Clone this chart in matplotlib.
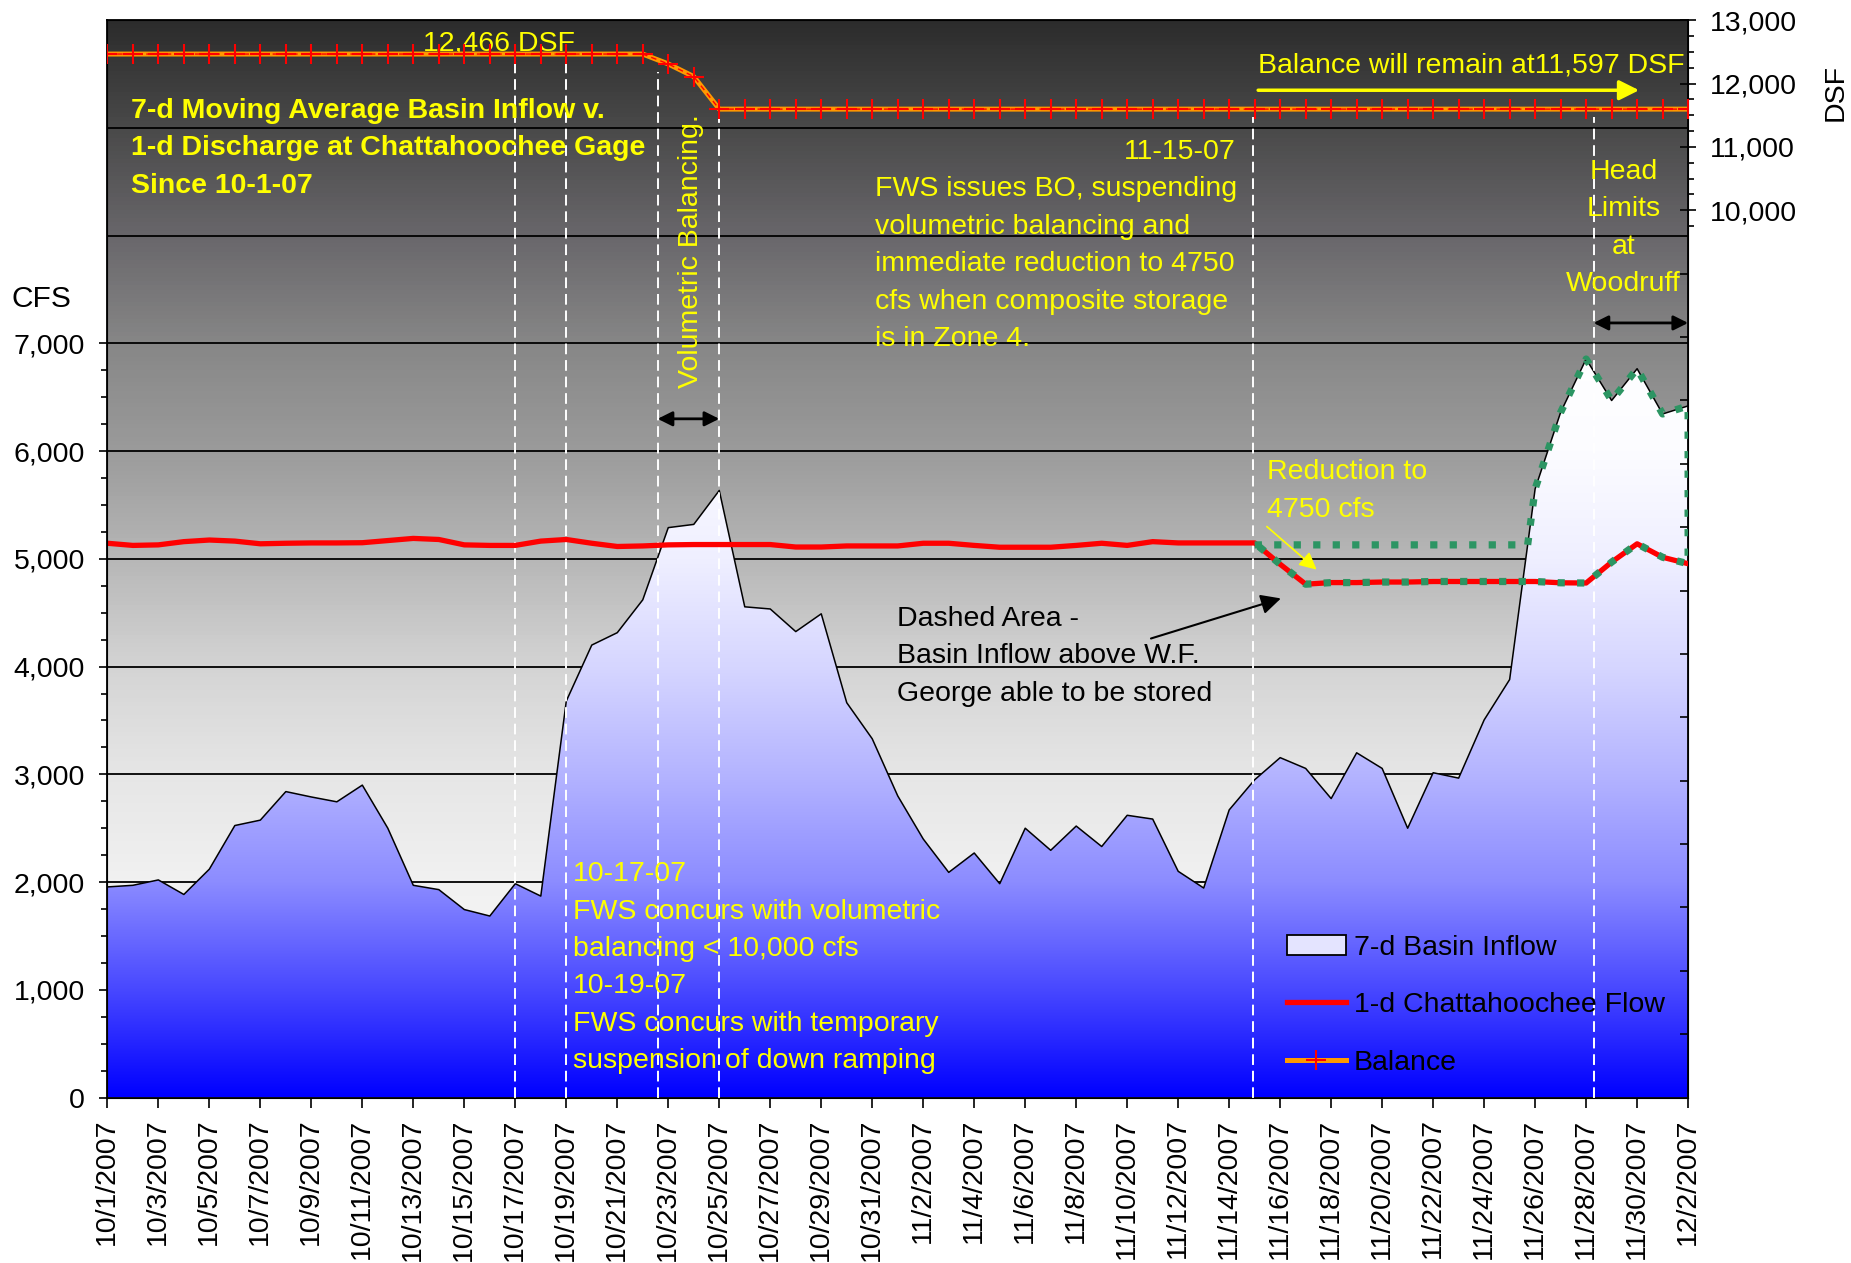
import matplotlib
matplotlib.use("Agg")
import matplotlib.pyplot as plt
import matplotlib.dates as mdates
import matplotlib.transforms as mtransforms
import numpy as np
import pandas as pd
from matplotlib.colors import LinearSegmentedColormap
from matplotlib.lines import Line2D
from matplotlib.patches import Patch
from matplotlib.ticker import FuncFormatter

plt.rcParams["font.family"] = ["Liberation Sans", "DejaVu Sans"]
plt.rcParams["font.size"] = 20.5

# ---- data ----
dates = pd.date_range("2007-10-01", "2007-12-02", freq="D")

# 7-d moving average basin inflow, cfs
inflow_7d = [1955, 1970, 2020, 1885, 2120, 2525, 2575, 2840, 2790, 2745,
             2900, 2500, 1970, 1930, 1745, 1685, 1985, 1870, 3680, 4200,
             4315, 4620, 5290, 5320, 5635, 4555, 4535, 4325, 4490, 3665,
             3330, 2800, 2400, 2090, 2270, 1985, 2500, 2295, 2520, 2330,
             2620, 2585, 2100, 1945, 2670, 2950, 3155, 3055, 2775, 3200,
             3055, 2500, 3015, 2965, 3505, 3880, 5650, 6360, 6855, 6470,
             6765, 6345, 6420]

# 1-d Chattahoochee flow, cfs
flow_1d = [5145, 5125, 5130, 5160, 5175, 5165, 5140, 5145, 5148, 5148,
           5150, 5170, 5190, 5180, 5130, 5125, 5125, 5165, 5180, 5145,
           5115, 5120, 5130, 5133, 5133, 5133, 5133, 5110, 5110, 5120,
           5120, 5120, 5145, 5145, 5125, 5108, 5108, 5108, 5125, 5145,
           5125, 5160, 5148, 5148, 5148, 5148, 4950, 4765, 4780, 4780,
           4785, 4785, 4790, 4790, 4790, 4790, 4790, 4778, 4776, 4970,
           5140, 5015, 4955]

# composite balance, DSF (right axis)
balance = [12466, 12466, 12466, 12466, 12466, 12466, 12466, 12466, 12466, 12466,
           12466, 12466, 12466, 12466, 12466, 12466, 12466, 12466, 12466, 12466,
           12466, 12466, 12310, 12110, 11597, 11597, 11597, 11597, 11597, 11597,
           11597, 11597, 11597, 11597, 11597, 11597, 11597, 11597, 11597, 11597,
           11597, 11597, 11597, 11597, 11597, 11597, 11597, 11597, 11597, 11597,
           11597, 11597, 11597, 11597, 11597, 11597, 11597, 11597, 11597, 11597,
           11597, 11597, 11597]

store_level = 5130          # release level before the 4750 cfs reduction
store_start = 45            # index of 11/15/2007

# event markers (dates with hour offsets) and where each dashed line stops
event_dates = [pd.Timestamp("2007-10-17"), pd.Timestamp("2007-10-19"),
               pd.Timestamp("2007-10-22 14:00"), pd.Timestamp("2007-10-25"),
               pd.Timestamp("2007-11-14 22:00"), pd.Timestamp("2007-11-28 07:00")]
event_tops = [9690, 9690, 9520, 9170, 9100, 9100]

YEL = "#ffff00"
LS = 1.57
xn = mdates.date2num(dates)
inflow = np.array(inflow_7d, dtype=float)
flow = np.array(flow_1d, dtype=float)

fig = plt.figure(figsize=(18.51, 12.63), dpi=100)
ax = fig.add_axes([0.058, 0.131, 0.854, 0.853])

# gradient plot background
bg_cmap = LinearSegmentedColormap.from_list("bg", [
    (0.0, "#ffffff"), (0.1, "#f8f8f8"), (0.2, "#f1f1f1"), (0.3, "#e6e6e6"),
    (0.4, "#d4d4d4"), (0.5, "#b7b7b7"), (0.6, "#9b9b9b"), (0.7, "#878787"),
    (0.8, "#69676b"), (0.9, "#4a4a4a"), (1.0, "#2c2c2c")])
ax.imshow(np.linspace(0, 1, 256).reshape(-1, 1), extent=[0, 1, 0, 1],
          transform=ax.transAxes, cmap=bg_cmap, origin="lower",
          aspect="auto", zorder=0)

ax.hlines(np.arange(1000, 10000, 1000), xn[0], xn[-1], colors="black",
          lw=1.3, zorder=1)

# basin inflow area with vertical blue->white gradient
area_cmap = LinearSegmentedColormap.from_list("area", [
    (0.0, "#0000ff"), (1 / 7, "#4848ff"), (2 / 7, "#8c8cff"), (3 / 7, "#b4b4ff"),
    (4 / 7, "#d6d6ff"), (5 / 7, "#efefff"), (6 / 7, "#fcfcff"), (1.0, "#ffffff")])
fill = ax.fill_between(xn, inflow, 0, facecolor="none", edgecolor="none")
img = ax.imshow(np.linspace(0, 1, 256).reshape(-1, 1),
                extent=[xn[0], xn[-1], 0, 7000], cmap=area_cmap,
                origin="lower", aspect="auto", zorder=2)
img.set_clip_path(fill.get_paths()[0], transform=ax.transData)
ax.plot(xn, inflow, color="black", lw=1.1, zorder=3)

ax.vlines(mdates.date2num(event_dates), 0, event_tops, colors="white",
          linestyles=(0, (5.5, 3)), lw=1.4, zorder=4)

ax.plot(xn, flow, color="#ff0000", lw=3.8, zorder=5)

# dashed area: flow vs. what could have been released
xz, iz, fz = xn[store_start:], inflow[store_start:], flow[store_start:]
k = int(np.argmax(iz > store_level))
xc = np.interp(store_level, [iz[k - 1], iz[k]], [xz[k - 1], xz[k]])
top_x = np.r_[xz[:k], xc, xz[k:]]
top_y = np.r_[np.full(k, store_level), store_level, iz[k:]]
ax.plot(np.r_[top_x, xz[::-1], top_x[0]], np.r_[top_y, fz[::-1], top_y[0]],
        color="#2c9563", lw=5.2, linestyle=(0, (1, 1.7)), solid_capstyle="butt",
        dash_capstyle="butt", zorder=6)

ax.set_xlim(xn[0], xn[-1])
ax.set_ylim(0, 10000)
ax.set_xticks(xn[::2])
ax.xaxis.set_major_formatter(FuncFormatter(
    lambda v, p: "{0.month}/{0.day}/{0.year}".format(mdates.num2date(v))))
ax.tick_params(axis="x", rotation=90, length=7, width=1.2, pad=8)
ax.set_yticks(np.arange(0, 7001, 1000))
ax.set_yticks([v for v in range(250, 7000, 250) if v % 1000], minor=True)
ax.yaxis.set_major_formatter(FuncFormatter(lambda v, p: f"{int(v):,}"))
ax.tick_params(axis="y", length=6, width=1.2, pad=10)
ax.tick_params(axis="y", which="minor", length=4.5, width=1.2)
for s in ax.spines.values():
    s.set_linewidth(1.3)

# balance on right axis
ax2 = ax.twinx()
ax2.set_ylim(-4000, 13000)
ax2.plot(xn, balance, color="#ff9900", lw=3.6, zorder=3)
ax2.plot(xn, balance, color="#ff0000", lw=1.0, ls=(0, (4, 3)),
         marker="+", ms=14, mew=1.5, zorder=4)
ax2.set_yticks(np.arange(10000, 13001, 1000))
ax2.set_yticks([v for v in range(9750, 13000, 250) if v % 1000], minor=True)
ax2.yaxis.set_major_formatter(FuncFormatter(lambda v, p: f"{int(v):,}"))
ax2.tick_params(axis="y", direction="inout", length=12, width=1.2, pad=10)
ax2.tick_params(axis="y", which="minor", direction="out", length=4.5, width=1.2)
ax2.set_xlim(xn[0], xn[-1])
# unlabeled inward ticks for the rest of the DSF scale
btr = mtransforms.blended_transform_factory(ax2.transAxes, ax2.transData)
ax2.hlines(np.arange(-3000, 10000, 1000), 0.9948, 1.0, colors="black",
           lw=1.2, transform=btr, clip_on=False, zorder=5)

# ---- annotations ----
T = ax.transAxes
ax.text(0.015, 0.881, "7-d Moving Average Basin Inflow v.\n"
        "1-d Discharge at Chattahoochee Gage\nSince 10-1-07",
        transform=T, color=YEL, fontweight="bold", ha="left", va="center",
        linespacing=LS, zorder=8)
ax.text(0.248, 0.978, "12,466 DSF", transform=T, color=YEL, ha="center",
        va="center", zorder=8)
ax.text(0.369, 0.786, "Volumetric Balancing.", transform=T, color=YEL,
        rotation=90, ha="center", va="center", zorder=8)
ax.annotate("", xy=(mdates.date2num(event_dates[2]), 6300),
            xytext=(mdates.date2num(event_dates[3]), 6300),
            arrowprops=dict(arrowstyle="<|-|>", color="black", lw=2,
                            mutation_scale=22, shrinkA=0, shrinkB=0), zorder=8)
ax.text(0.714, 0.878, "11-15-07", transform=T, color=YEL, ha="right",
        va="center", zorder=8)
ax.text(0.4855, 0.7735, "FWS issues BO, suspending\nvolumetric balancing and\n"
        "immediate reduction to 4750\ncfs when composite storage\n"
        "is in Zone 4.", transform=T, color=YEL, ha="left", va="center",
        linespacing=LS, zorder=8)
ax.text(0.728, 0.958, "Balance will remain at11,597 DSF", transform=T,
        color=YEL, ha="left", va="center", zorder=8)
ax.annotate("", xy=(0.969, 0.935), xytext=(0.728, 0.935), xycoords=T,
            arrowprops=dict(arrowstyle="-|>", color=YEL, lw=2.5,
                            mutation_scale=30, shrinkA=0, shrinkB=0), zorder=8)
ax.text(0.959, 0.807, "Head\nLimits\nat\nWoodruff", transform=T, color=YEL,
        ha="center", va="center", linespacing=LS, zorder=8)
ax.annotate("", xy=(mdates.date2num(event_dates[5]), 7190),
            xytext=(xn[-1], 7190),
            arrowprops=dict(arrowstyle="<|-|>", color="black", lw=2,
                            mutation_scale=22, shrinkA=0, shrinkB=0), zorder=8)
ax.text(0.7335, 0.563, "Reduction to\n4750 cfs", transform=T, color=YEL,
        ha="left", va="center", linespacing=LS, zorder=8)
ax.annotate("", xy=(0.765, 0.490), xytext=(0.7335, 0.530), xycoords=T,
            arrowprops=dict(arrowstyle="-|>", color=YEL, lw=1.2,
                            mutation_scale=26, shrinkA=0, shrinkB=0), zorder=8)
ax.text(0.4996, 0.4096, "Dashed Area -\nBasin Inflow above W.F.\n"
        "George able to be stored", transform=T, color="black", ha="left",
        va="center", linespacing=LS, zorder=8)
ax.annotate("", xy=(0.7424, 0.4633), xytext=(0.6602, 0.4261), xycoords=T,
            arrowprops=dict(arrowstyle="-|>", color="black", lw=1.5,
                            mutation_scale=30, shrinkA=0, shrinkB=0), zorder=8)
ax.text(0.2943, 0.1205, "10-17-07\nFWS concurs with volumetric\n"
        "balancing < 10,000 cfs\n10-19-07\nFWS concurs with temporary\n"
        "suspension of down ramping", transform=T, color=YEL, ha="left",
        va="center", linespacing=LS, zorder=8)

fig.text(0.0064, 0.7636, "CFS", ha="left", va="center", fontsize=21.5)
fig.text(0.9917, 0.927, "DSF", ha="center", va="center", rotation=90)

# legend
grad_patch = Patch(facecolor="#e4e4ff", edgecolor="black", lw=1.3)
handles = [grad_patch,
           Line2D([], [], color="#ff0000", lw=3.8),
           Line2D([], [], color="#ff9900", lw=3.6, marker="+", ms=14,
                  mec="#ff0000", mew=1.5)]
labels = ["7-d Basin Inflow", "1-d Chattahoochee Flow", "Balance"]
leg = ax2.legend(handles, labels, loc="upper left",
                 bbox_to_anchor=(0.746, 0.151), frameon=False, borderpad=0,
                 borderaxespad=0, handlelength=2.1, handletextpad=0.25,
                 labelspacing=1.1)
leg.set_zorder(10)

fig.savefig("out.png", dpi=100)
